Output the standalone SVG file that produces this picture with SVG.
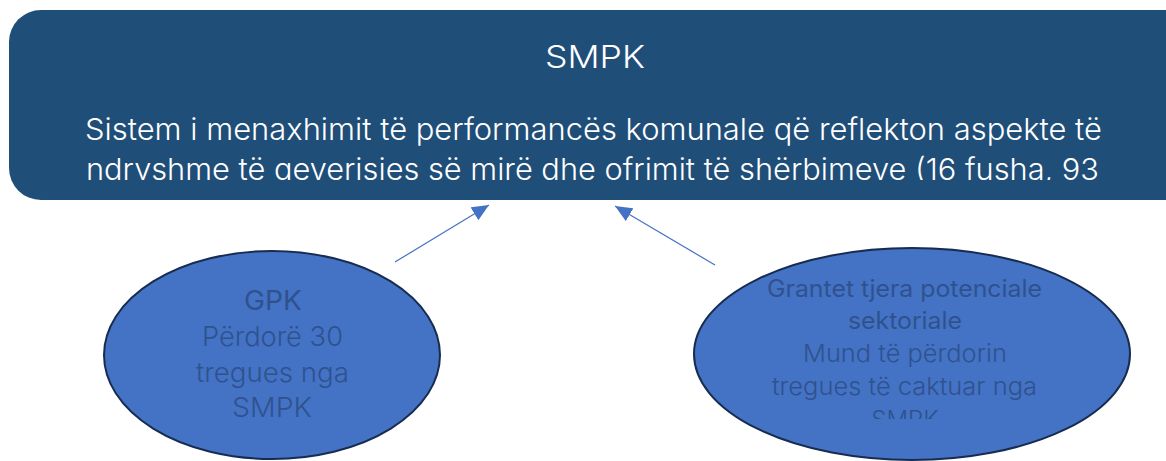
<svg xmlns="http://www.w3.org/2000/svg" width="1166" height="461" viewBox="0 0 1166 461">
<defs>
<style>
.top{font-family:Inter,Roboto,"Liberation Sans",sans-serif;font-weight:300;fill:#ffffff;text-anchor:middle}
.el{fill:#4472C4;stroke:#172C51;stroke-width:2}
.et{font-family:Inter,Roboto,"Liberation Sans",sans-serif;fill:#2F528F;text-anchor:middle}
.conn{stroke:#4472C4;stroke-width:1.2;fill:none}
</style>
<marker id="ah" viewBox="0 0 10 10" refX="10" refY="5" markerWidth="17" markerHeight="15" preserveAspectRatio="none" markerUnits="userSpaceOnUse" orient="auto">
<path d="M0,0 L10,5 L0,10 z" fill="#4472C4"/>
</marker>
<clipPath id="c1"><rect x="9" y="10" width="1170" height="170"/></clipPath>
<clipPath id="c2"><rect x="690" y="240" width="450" height="179"/></clipPath>
</defs>
<g id="smpk">
<rect x="9" y="10" width="1190" height="190" rx="32" fill="#1F4E79"/>
<text class="top" x="595" y="68" font-size="31" textLength="100" lengthAdjust="spacingAndGlyphs">SMPK</text>
<g clip-path="url(#c1)">
<text class="top" x="593.5" y="140" font-size="30" textLength="1017" lengthAdjust="spacingAndGlyphs">Sistem i menaxhimit të performancës komunale që reflekton aspekte të</text>
<text class="top" x="592.5" y="180" font-size="30" textLength="1013" lengthAdjust="spacingAndGlyphs">ndryshme të qeverisjes së mirë dhe ofrimit të shërbimeve (16 fusha, 93</text>
</g>
</g>
<g id="connectors">
<line class="conn" x1="395" y1="262" x2="489" y2="205" marker-end="url(#ah)"/>
<line class="conn" x1="715" y1="265" x2="615" y2="206" marker-end="url(#ah)"/>
</g>
<g id="gpk">
<ellipse class="el" cx="272" cy="355" rx="168" ry="104"/>
<text class="et" x="273" y="310" font-size="27" font-weight="400" textLength="58" lengthAdjust="spacingAndGlyphs">GPK</text>
<text class="et" x="272.5" y="346" font-size="27" font-weight="300" textLength="141" lengthAdjust="spacingAndGlyphs">Përdorë 30</text>
<text class="et" x="272.5" y="382" font-size="27" font-weight="300" textLength="153" lengthAdjust="spacingAndGlyphs">tregues nga</text>
<text class="et" x="272" y="417" font-size="27" font-weight="300" textLength="80" lengthAdjust="spacingAndGlyphs">SMPK</text>
</g>
<g id="grantet">
<ellipse class="el" cx="912" cy="354" rx="218" ry="106"/>
<g clip-path="url(#c2)">
<text class="et" x="904.5" y="297" font-size="24" font-weight="400" textLength="275" lengthAdjust="spacingAndGlyphs">Grantet tjera potenciale</text>
<text class="et" x="905" y="329" font-size="24" font-weight="400" textLength="114" lengthAdjust="spacingAndGlyphs">sektoriale</text>
<text class="et" x="905" y="362" font-size="24" font-weight="300" textLength="204" lengthAdjust="spacingAndGlyphs">Mund të përdorin</text>
<text class="et" x="904.5" y="395" font-size="24" font-weight="300" textLength="265" lengthAdjust="spacingAndGlyphs">tregues të caktuar nga</text>
<text class="et" x="905" y="428" font-size="24" font-weight="300">SMPK</text>
</g>
</g>
</svg>
